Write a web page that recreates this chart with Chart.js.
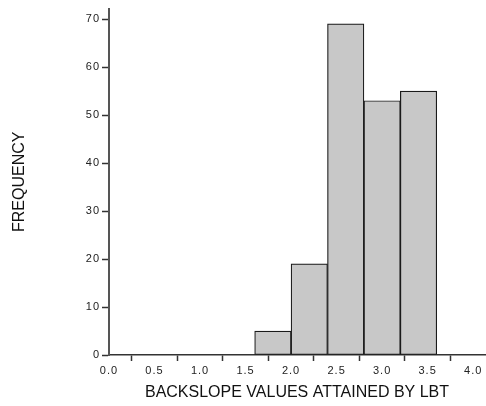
<!DOCTYPE html>
<html>
<head>
<meta charset="utf-8">
<script src="https://cdn.jsdelivr.net/npm/chart.js@4"></script>
<style>
  html, body { margin: 0; padding: 0; background: #fff; }
  #wrap { width: 486px; height: 406px; position: relative; }
</style>
</head>
<body>
<div id="wrap"><canvas id="c" width="486" height="406"></canvas></div>
<script>
// Histogram bins (lower edges), common bin width and counts
const binStarts = [1.6, 2.0, 2.4, 2.8, 3.2];
const binWidth = 0.4;
const counts = [5, 19, 69, 53, 55];

// Axis ticks
const xTickValues = [0, 0.5, 1.0, 1.5, 2.0, 2.5, 3.0, 3.5, 4.0];
const xTickLabels = ['0.0', '0.5', '1.0', '1.5', '2.0', '2.5', '3.0', '3.5', '4.0'];
const yTickValues = [0, 10, 20, 30, 40, 50, 60, 70];
const yTickLabels = ['0', '10', '20', '30', '40', '50', '60', '70'];

const xTitle = 'BACKSLOPE VALUES ATTAINED BY LBT';
const yTitle = 'FREQUENCY';

const FONT = '"Liberation Sans", Arial, sans-serif';

const points = binStarts.map((s, i) => ({ x: s + binWidth / 2, y: counts[i] }));

// Slightly spaced tick digits: tick labels are drawn in a later layer (ticks.z = 1)
const tickSpacing = {
  id: 'tickSpacing',
  afterDatasetsDraw(chart) { chart.ctx.letterSpacing = '1px'; },
  afterDraw(chart) { chart.ctx.letterSpacing = '0px'; }
};

new Chart(document.getElementById('c'), {
  type: 'bar',
  data: {
    datasets: [{
      data: points,
      backgroundColor: '#c8c8c8',
      borderColor: '#1a1a1a',
      borderWidth: 1.2,
      borderSkipped: false,
      barPercentage: 1.0,
      categoryPercentage: 1.0
    }]
  },
  options: {
    responsive: false,
    animation: false,
    layout: { padding: { left: 0, top: 6, right: 1, bottom: 0 } },
    plugins: { legend: { display: false }, tooltip: { enabled: false } },
    scales: {
      x: {
        type: 'linear',
        offset: false,
        min: 0,
        max: 4.13,
        afterBuildTicks(scale) { scale.ticks = xTickValues.map(v => ({ value: v })); },
        afterFit(scale) { scale.height = 51; },
        grid: { drawOnChartArea: false, drawTicks: true, tickLength: 6, tickWidth: 1.5, color: '#333' },
        border: { display: true, color: '#333', width: 1.5 },
        ticks: {
          z: 1,
          padding: 3,
          maxRotation: 0,
          autoSkip: false,
          color: '#222',
          font: { family: FONT, size: 11 },
          callback(v) { const i = xTickValues.indexOf(v); return i >= 0 ? xTickLabels[i] : ''; }
        },
        title: {
          display: true,
          text: xTitle,
          color: '#111',
          font: { family: FONT, size: 16 },
          padding: { top: 0, bottom: 4 }
        }
      },
      y: {
        type: 'linear',
        min: 0,
        max: 72.2,
        afterBuildTicks(scale) { scale.ticks = yTickValues.map(v => ({ value: v })); },
        afterFit(scale) { scale.width = 109; },
        grid: { drawOnChartArea: false, drawTicks: true, tickLength: 7, tickWidth: 1.5, color: '#333' },
        border: { display: true, color: '#555', width: 2 },
        ticks: {
          z: 1,
          padding: 2,
          color: '#222',
          font: { family: FONT, size: 11 },
          callback(v) { const i = yTickValues.indexOf(v); return i >= 0 ? yTickLabels[i] : ''; }
        },
        title: {
          display: true,
          text: yTitle,
          color: '#111',
          font: { family: FONT, size: 16 },
          padding: { top: 10, bottom: 0 }
        }
      }
    }
  },
  plugins: [tickSpacing]
});
</script>
</body>
</html>
